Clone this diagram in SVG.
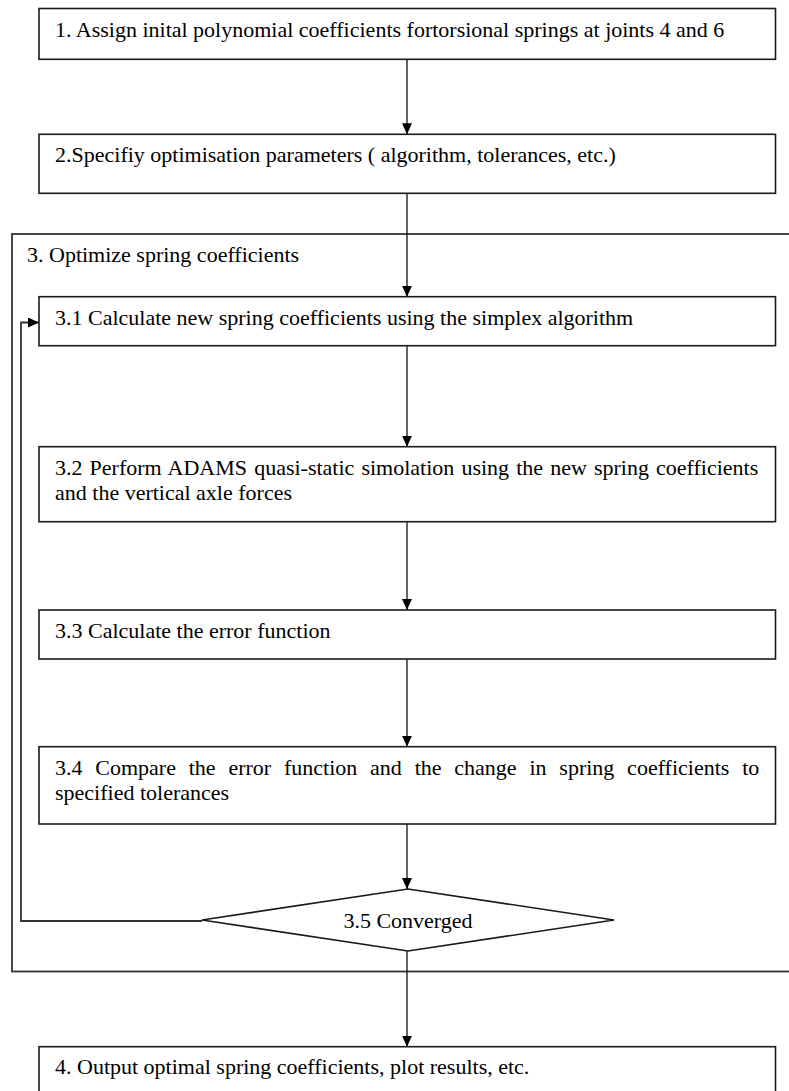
<svg xmlns="http://www.w3.org/2000/svg" width="789" height="1091" viewBox="0 0 789 1091">
<style>
.box{fill:#fff;stroke:#1a1a1a;stroke-width:1.6}
.outer{fill:none;stroke:#333;stroke-width:1.8}
.t{font-family:"Liberation Serif","Times New Roman",serif;font-size:22px;fill:#000}
.c{fill:none;stroke:#111;stroke-width:1.3}
.loop{fill:none;stroke:#333;stroke-width:1.8}
</style>
<defs>
<marker id="arr" markerUnits="userSpaceOnUse" markerWidth="11" markerHeight="10" refX="11" refY="5" orient="auto">
<path d="M0,0 L11,5 L0,10 z" fill="#000"/>
</marker>
</defs>
<rect width="789" height="1091" fill="#fff"/>
<g id="group3">
<rect class="outer" x="12" y="234" width="790" height="737.5"/>
<text class="t" x="27" y="261.5">3. Optimize spring coefficients</text>
</g>
<g id="connectors">
<line class="c" x1="407" y1="59.3" x2="407" y2="134.3" marker-end="url(#arr)"/>
<line class="c" x1="407" y1="193.3" x2="407" y2="296.7" marker-end="url(#arr)"/>
<line class="c" x1="407" y1="345.7" x2="407" y2="446.7" marker-end="url(#arr)"/>
<line class="c" x1="407" y1="521.7" x2="407" y2="610" marker-end="url(#arr)"/>
<line class="c" x1="407" y1="659" x2="407" y2="746.7" marker-end="url(#arr)"/>
<line class="c" x1="407" y1="824" x2="407" y2="889" marker-end="url(#arr)"/>
<line class="c" x1="407" y1="951" x2="407" y2="1046.7" marker-end="url(#arr)"/>
<polyline class="loop" points="202,921 21,921 21,322.5 39,322.5" marker-end="url(#arr)"/>
</g>
<g id="n1">
<rect class="box" x="39" y="8.5" width="736.5" height="50.8"/>
<text class="t" x="55" y="37.3">1. Assign inital polynomial coefficients fortorsional springs at joints 4 and 6</text>
</g>
<g id="n2">
<rect class="box" x="39" y="134.3" width="736.5" height="59"/>
<text class="t" x="55" y="161.5">2.Specifiy optimisation parameters ( algorithm, tolerances, etc.)</text>
</g>
<g id="n31">
<rect class="box" x="39" y="296.7" width="736.5" height="49"/>
<text class="t" x="55" y="325">3.1 Calculate new spring coefficients using the simplex algorithm</text>
</g>
<g id="n32">
<rect class="box" x="39" y="446.7" width="736.5" height="75"/>
<text class="t" x="55" y="474.5" word-spacing="1.6">3.2 Perform ADAMS quasi-static simolation using the new spring coefficients</text>
<text class="t" x="55" y="499.5">and the vertical axle forces</text>
</g>
<g id="n33">
<rect class="box" x="39" y="610" width="736.5" height="49"/>
<text class="t" x="55" y="638">3.3 Calculate the error function</text>
</g>
<g id="n34">
<rect class="box" x="39" y="746.7" width="736.5" height="77.3"/>
<text class="t" x="55" y="775" word-spacing="7.3">3.4 Compare the error function and the change in spring coefficients to</text>
<text class="t" x="55" y="800">specified tolerances</text>
</g>
<g id="n35">
<polygon class="box" points="408,889 614,920 408,951 202,920"/>
<text class="t" x="408" y="928" text-anchor="middle">3.5 Converged</text>
</g>
<g id="n4">
<rect class="box" x="39" y="1046.7" width="736.5" height="60"/>
<text class="t" x="55" y="1074">4. Output optimal spring coefficients, plot results, etc.</text>
</g>
</svg>
